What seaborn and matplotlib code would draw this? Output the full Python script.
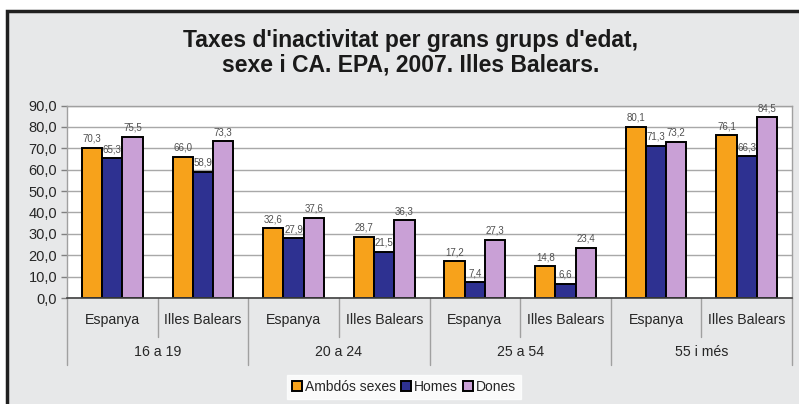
import pandas as pd
import matplotlib.pyplot as plt
import seaborn as sns
from matplotlib.patches import Rectangle

# Data
age_groups = ['16 a 19', '20 a 24', '25 a 54', '55 i més']
regions = ['Espanya', 'Illes Balears']
series = ['Ambdós sexes', 'Homes', 'Dones']
ambdos = [70.3, 66.0, 32.6, 28.7, 17.2, 14.8, 80.1, 76.1]
homes = [65.3, 58.9, 27.9, 21.5, 7.4, 6.6, 71.3, 66.3]
dones = [75.5, 73.3, 37.6, 36.3, 27.3, 23.4, 73.2, 84.5]
colors = ['#F7A21B', '#2E3191', '#C9A0D6']

# Long-form table
positions = [f'{g}|{r}' for g in age_groups for r in regions]
rows = []
for name, vals in zip(series, [ambdos, homes, dones]):
    for pos, v in zip(positions, vals):
        rows.append({'pos': pos, 'sexe': name, 'valor': v})
df = pd.DataFrame(rows)

sns.set_style('white')
plt.rcParams['font.family'] = ['Liberation Sans', 'DejaVu Sans']

W, H = 799, 404
fig = plt.figure(figsize=(W / 100, H / 100), dpi=100)
fig.patch.set_facecolor('white')

# grey panel with dark frame
fig.patches.append(Rectangle((7 / W, -0.1), 1.2, (H - 11) / H + 0.1,
                             transform=fig.transFigure, facecolor='#E7E8E9',
                             edgecolor='#202020', linewidth=2.5, zorder=-5))

ax = fig.add_axes([67 / W, (H - 298) / H, (792 - 67) / W, (298 - 105.6) / H])
ax.set_facecolor('white')

sns.barplot(data=df, x='pos', y='valor', hue='sexe', order=positions,
            hue_order=series, palette=colors, width=0.67,
            edgecolor='black', linewidth=1.4, saturation=1, ax=ax)

for cont in ax.containers:
    ax.bar_label(cont, labels=[f'{b.get_height():.1f}'.replace('.', ',') for b in cont],
                 padding=3, fontsize=7, color='#505050')

ax.set_ylim(0, 90)
ax.set_xlim(-0.5, len(positions) - 0.5)
ax.set_yticks(range(0, 91, 10))
ax.set_yticklabels([f'{v:.1f}'.replace('.', ',') for v in range(0, 91, 10)], fontsize=10.5)
ax.yaxis.grid(True, color='#A8A8A8', linewidth=1)
ax.set_axisbelow(True)
ax.tick_params(axis='y', length=4, width=1, color='#808080', pad=3, left=True)
ax.tick_params(axis='x', length=0, pad=11)
ax.set_xticks(range(len(positions)))
ax.set_xticklabels([p.split('|')[1] for p in positions], fontsize=10.2)
ax.set_xlabel('')
ax.set_ylabel('')
for side in ['top', 'right', 'left']:
    ax.spines[side].set_color('#A0A0A0')
    ax.spines[side].set_linewidth(1)
ax.spines['bottom'].set_color('#404040')
ax.spines['bottom'].set_linewidth(1.2)

# Multi-level category axis
trans = ax.get_xaxis_transform()
for i in range(len(positions) + 1):
    x = i - 0.5
    bottom = -0.35 if i % 2 == 0 else -0.205
    ax.plot([x, x], [0, bottom], transform=trans, color='#A0A0A0',
            linewidth=1, clip_on=False)
for j, g in enumerate(age_groups):
    ax.text(2 * j + 0.5, -0.282, g, transform=trans, ha='center', va='center',
            fontsize=10.2)

# Legend
leg = ax.legend(loc='center', bbox_to_anchor=(404 / W, 1 - 387 / H),
                bbox_transform=fig.transFigure, ncol=3, fontsize=10,
                frameon=True, fancybox=False, handlelength=0.75, handleheight=0.75,
                handletextpad=0.2, columnspacing=0.35, borderpad=0.35)
leg.get_frame().set_facecolor('white')
leg.get_frame().set_edgecolor('white')

fig.text(411 / W, 1 - 53 / H,
         "Taxes d'inactivitat per grans grups d'edat,\nsexe i CA. EPA, 2007. Illes Balears.",
         ha='center', va='center', fontsize=16.5, fontweight='bold',
         color='#1a1a1a', linespacing=1.1)

fig.savefig('out.png', dpi=100)
